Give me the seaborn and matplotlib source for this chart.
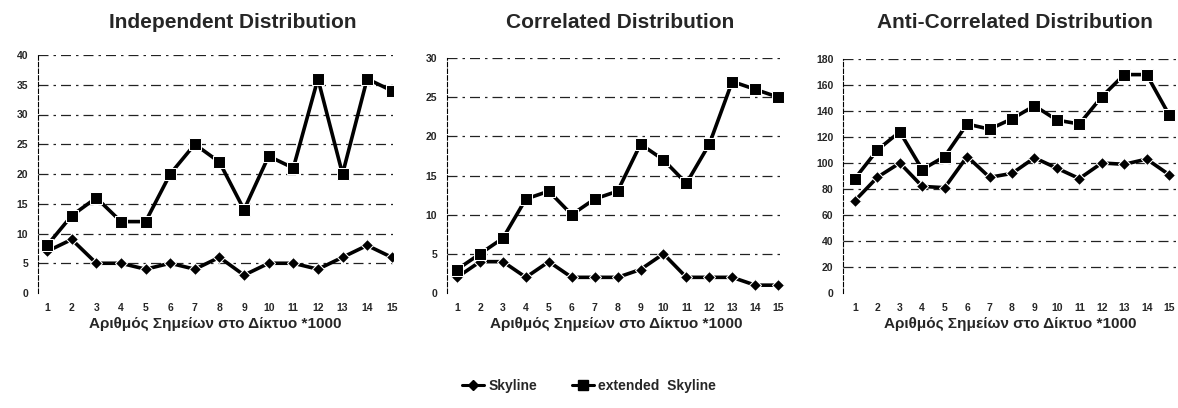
import pandas as pd
import matplotlib
matplotlib.use('Agg')
import matplotlib.pyplot as plt
import seaborn as sb
from matplotlib.lines import Line2D

points = list(range(1, 16))  # x1000 points in the network

indep_skyline = [7, 9, 5, 5, 4, 5, 4, 6, 3, 5, 5, 4, 6, 8, 6]
indep_extended = [8, 13, 16, 12, 12, 20, 25, 22, 14, 23, 21, 36, 20, 36, 34]

corr_skyline = [2, 4, 4, 2, 4, 2, 2, 2, 3, 5, 2, 2, 2, 1, 1]
corr_extended = [3, 5, 7, 12, 13, 10, 12, 13, 19, 17, 14, 19, 27, 26, 25]

anti_skyline = [71, 89, 100, 82, 81, 105, 89, 92, 104, 96, 88, 100, 99, 103, 91]
anti_extended = [88, 110, 124, 95, 105, 130, 126, 134, 144, 133, 130, 151, 168, 168, 137]

titles = ['Independent Distribution', 'Correlated Distribution', 'Anti-Correlated Distribution']
xlabel = 'Αριθμός Σημείων στο Δίκτυο *1000'
series_names = ['Skyline', 'extended  Skyline']

panels = [
    (indep_skyline, indep_extended, 40, 5),
    (corr_skyline, corr_extended, 30, 5),
    (anti_skyline, anti_extended, 180, 20),
]

sb.set_style('white')
plt.rcParams['font.family'] = ['Liberation Sans', 'DejaVu Sans']

fig = plt.figure(figsize=(11.78, 4.08), dpi=100)
boxes = [
    [38 / 1178, 1 - 293 / 408, 355 / 1178, 238 / 408],
    [447 / 1178, 1 - 293 / 408, 338 / 1178, 235 / 408],
    [843 / 1178, 1 - 293 / 408, 334 / 1178, 234 / 408],
]
xlims = [(0.63, 15.05), (0.56, 15.3), (0.47, 15.35)]
title_cx = [233, 620, 1015]

for i, (sky, ext, ymax, step) in enumerate(panels):
    ax = fig.add_axes(boxes[i])
    df = pd.DataFrame({'x': points * 2,
                       'y': sky + ext,
                       'series': [series_names[0]] * 15 + [series_names[1]] * 15})
    sb.lineplot(data=df[df.series == series_names[0]], x='x', y='y', ax=ax,
                color='black', lw=2.6, marker='D', markersize=6, legend=False)
    sb.lineplot(data=df[df.series == series_names[1]], x='x', y='y', ax=ax,
                color='black', lw=2.6, marker='s', markersize=9, legend=False)
    ax.set_ylim(0, ymax)
    ax.set_xlim(*xlims[i])
    ax.set_yticks(range(0, ymax + 1, step))
    ax.set_xticks(points)
    for yv in range(step, ymax + 1, step):
        ax.axhline(yv, color='#222222', lw=0.9, ls=(0, (8, 4, 2, 4)), zorder=0)
    for s in ['top', 'right', 'bottom']:
        ax.spines[s].set_visible(False)
    ax.spines['left'].set_color('black')
    ax.spines['left'].set_linestyle((0, (4, 2)))
    ax.tick_params(axis='both', length=0, labelsize=7.5, pad=7)
    for lab in ax.get_xticklabels() + ax.get_yticklabels():
        lab.set_fontweight('bold')
    ax.set_xlabel(xlabel, fontsize=11, fontweight='bold', labelpad=3)
    ax.set_ylabel('')
    # titles sit on one common baseline in the reference
    fig.text(title_cx[i] / 1178, 1 - 22 / 408, titles[i], ha='center', va='center',
             fontsize=15, fontweight='bold')

handles = [Line2D([], [], color='black', lw=2.2, marker='D', markersize=5),
           Line2D([], [], color='black', lw=2.2, marker='s', markersize=7)]
fig.legend(handles, series_names, loc='center', bbox_to_anchor=(0.5, 0.055), ncol=2,
           frameon=False, prop={'weight': 'bold', 'size': 10}, handlelength=1.6,
           columnspacing=2.5, handletextpad=0.3)

fig.savefig('out.png', dpi=100)
